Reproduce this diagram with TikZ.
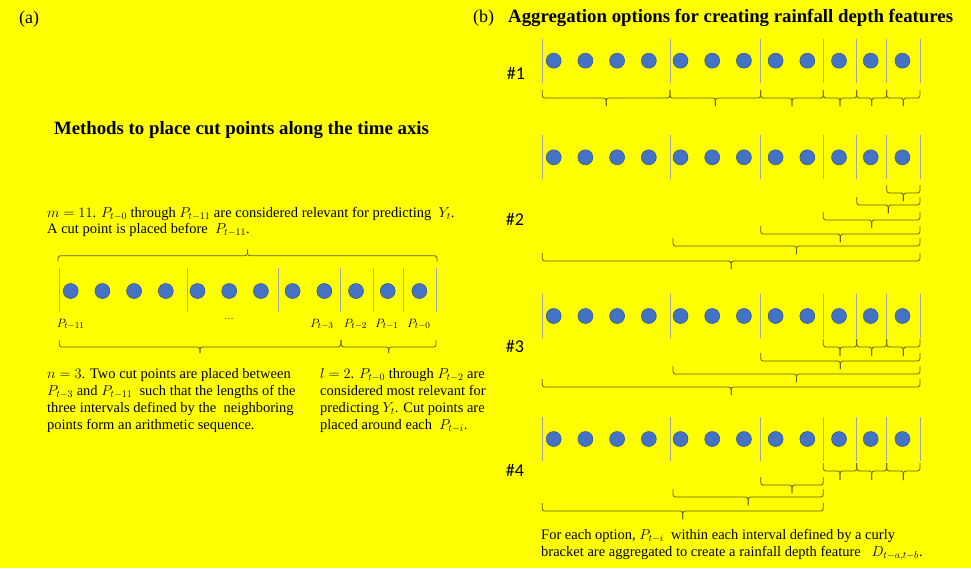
\documentclass[tikz,border=0pt]{standalone}
\usepackage{fontspec}
\setmainfont{Liberation Serif}
\newfontfamily\calfont{Carlito}
\definecolor{bg}{RGB}{255,255,0}
\definecolor{dotfill}{RGB}{68,114,196}
\definecolor{dotline}{RGB}{47,82,143}
\definecolor{sepcol}{RGB}{165,165,165}
\definecolor{brcol}{RGB}{95,95,10}
\tikzset{
  dot/.style={circle,fill=dotfill,draw=dotline,line width=0.5pt,minimum size=15pt,inner sep=0pt},
  sepline/.style={draw=sepcol,line width=0.7pt},
  brc/.style={draw=brcol,line width=0.8pt,rounded corners=2.5pt},
  body/.style={font=\fontsize{14.5}{17}\selectfont,anchor=base west,inner sep=0pt},
  ttl/.style={font=\fontsize{18.8}{22}\selectfont\bfseries,inner sep=0pt},
  panel/.style={font=\fontsize{18}{20}\selectfont,anchor=west,inner sep=0pt},
  plab/.style={font=\fontsize{13}{15}\selectfont,anchor=base,inner sep=0pt},
  optlab/.style={font=\calfont\fontsize{18}{20}\selectfont,inner sep=0pt},
}
% curly bracket: x1, x2, y of ends, offset to horizontal, offset of tip
\newcommand{\cbr}[5]{%
  \draw[brc] ({#1},{#3}) -- ({#1},{#3+#4}) -- ({(#1+#2)/2},{#3+#4}) -- ({(#1+#2)/2},{#3+#4+#5});
  \draw[brc] ({#2},{#3}) -- ({#2},{#3+#4}) -- ({(#1+#2)/2},{#3+#4}) -- ({(#1+#2)/2},{#3+#4+#5});
}
% a row of 12 dots with separators (panel b)
\newcommand{\dotrow}[2]{% name prefix, y of dots
  \foreach \i in {0,...,11} {
    \node[dot] (#1\i) at ({553.7+31.7*\i},{#2}) {};
  }
  \foreach \xx in {542.3,670,760.7,823.3,856.7,886.7,920} {
    \draw[sepline] (\xx,{#2-22}) -- (\xx,{#2+22});
  }
}
\begin{document}
\begin{tikzpicture}[x=1pt,y=-1pt]
\fill[bg] (0,0) rectangle (971,568);
\useasboundingbox (0,0) rectangle (971,568);

% ---------------- panel (a)
\node[panel] (pa) at (19,19.5) {(a)};
\node[ttl] (tta) at (241.5,130) {Methods to place cut points along the time axis};

\node[body] (m1) at (47,217.7) {$m=11$. $P_{t-0}$ through $P_{t-11}$ are considered relevant for predicting \ $Y_t$.};
\node[body] (m2) at (47,233.5) {A cut point is placed before \ $P_{t-11}$.};

\cbr{58}{437}{261.7}{-6}{-6}

\foreach \i in {0,...,11} {
  \node[dot] (a\i) at ({70.7+31.7*\i},291) {};
}
\foreach \xx in {59.3,187.3,278,340.7,373.3,403.3,436} {
  \draw[sepline] (\xx,268) -- (\xx,312);
}
\node[plab] (l11) at (70.7,327) {$P_{t-11}$};
\node[font=\fontsize{9}{10}\selectfont,inner sep=0pt] (ldots) at (229,319) {\dots};
\node[plab] (l3) at (322,327) {$P_{t-3}$};
\node[plab] (l2) at (355.5,327) {$P_{t-2}$};
\node[plab] (l1) at (387,327) {$P_{t-1}$};
\node[plab] (l0) at (419,327) {$P_{t-0}$};

\cbr{59.3}{340.7}{340}{7}{6}
\cbr{341.3}{436}{340}{7}{6}

\node[body] (n1) at (47,378.3) {$n=3$. Two cut points are placed between};
\node[body] (n2) at (47,395.3) {$P_{t-3}$ and $P_{t-11}$ \ such that the lengths of the};
\node[body] (n3) at (47,412.3) {three intervals defined by the \ neighboring};
\node[body] (n4) at (47,429.3) {points form an arithmetic sequence.};

\node[body] (k1) at (320,378.3) {$l=2$. $P_{t-0}$ through $P_{t-2}$ are};
\node[body] (k2) at (320,395.3) {considered most relevant for};
\node[body] (k3) at (320,412.3) {predicting $Y_t$. Cut points are};
\node[body] (k4) at (320,429.3) {placed around each \ $P_{t-i}$.};

% ---------------- panel (b)
\node[panel] (pb) at (473,18.5) {(b)};
\node[ttl,anchor=west] (ttb) at (508,18) {Aggregation options for creating rainfall depth features};

% option 1
\node[optlab] (o1) at (516,73) {\#1};
\dotrow{r1d}{60.7}
\cbr{542.3}{670}{90}{8}{8}
\cbr{670}{760.7}{90}{8}{8}
\cbr{760.7}{823.3}{90}{8}{8}
\cbr{823.3}{856.7}{90}{8}{8}
\cbr{856.7}{886.7}{90}{8}{8}
\cbr{886.7}{920}{90}{8}{8}

% option 2
\node[optlab] (o2) at (515,219) {\#2};
\dotrow{r2d}{157.3}
\cbr{886.7}{920}{185}{8}{8}
\cbr{856.7}{920}{197}{8}{8}
\cbr{823.3}{920}{212}{8}{8}
\cbr{760.7}{920}{226}{8}{8}
\cbr{673}{920}{238}{8}{8}
\cbr{542.3}{920}{253}{8}{8}

% option 3
\node[optlab] (o3) at (515,346) {\#3};
\dotrow{r3d}{316}
\cbr{823.3}{856.7}{339}{8}{9}
\cbr{856.7}{886.7}{339}{8}{9}
\cbr{886.7}{920}{339}{8}{9}
\cbr{760.7}{920}{353}{8}{8}
\cbr{673}{920}{366}{8}{8}
\cbr{542.3}{920}{379}{8}{8}

% option 4
\node[optlab] (o4) at (515,470) {\#4};
\dotrow{r4d}{439}
\cbr{823.3}{856.7}{463}{8}{9}
\cbr{856.7}{886.7}{463}{8}{9}
\cbr{886.7}{920}{463}{8}{9}
\cbr{760.7}{823.3}{477}{8}{8}
\cbr{673}{823.3}{489}{8}{8}
\cbr{542.3}{823.3}{503}{8}{8}

\node[body] (f1) at (541,539) {For each option, $P_{t-i}$ \ within each interval defined by a curly};
\node[body] (f2) at (541,556.5) {bracket are aggregated to create a rainfall depth feature \ \ $D_{t-a,t-b}$.};
\end{tikzpicture}
\end{document}
